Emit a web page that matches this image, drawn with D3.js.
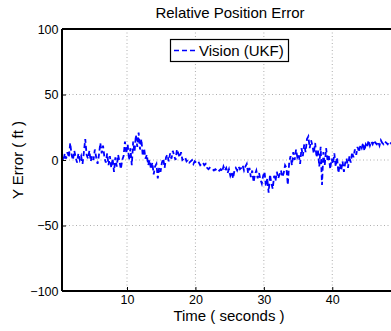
<!DOCTYPE html>
<html>
<head>
<meta charset="utf-8">
<script src="https://cdn.jsdelivr.net/npm/d3@7"></script>
<style>
  html, body { margin: 0; padding: 0; background: #fff; }
  svg { display: block; font-family: "Liberation Sans", Arial, Helvetica, sans-serif; }
</style>
</head>
<body>
<svg id="chart" width="391" height="331"></svg>
<script>
// Sample times (seconds)
const timeSec = [
  0.5, 0.7, 0.9, 1.1, 1.3, 1.5, 1.7, 1.9, 2.1, 2.3,
  2.5, 2.7, 2.9, 3.1, 3.3, 3.5, 3.7, 3.9, 4.1, 4.3,
  4.5, 4.7, 4.9, 5.1, 5.3, 5.5, 5.7, 5.9, 6.1, 6.3,
  6.5, 6.7, 6.9, 7.1, 7.3, 7.5, 7.7, 7.9, 8.1, 8.3,
  8.5, 8.7, 8.9, 9.1, 9.3, 9.5, 9.7, 9.9, 10.1, 10.3,
  10.5, 10.7, 10.9, 11.1, 11.3, 11.5, 11.7, 11.9, 12.1, 12.3,
  12.5, 12.7, 12.9, 13.1, 13.3, 13.5, 13.7, 13.9, 14.1, 14.3,
  14.5, 14.7, 14.9, 15.1, 15.3, 15.5, 15.7, 15.9, 16.1, 16.3,
  16.5, 16.7, 16.9, 17.1, 17.3, 17.5, 17.7, 17.9, 18.1, 18.3,
  18.5, 18.7, 18.9, 19.1, 19.3, 19.5, 19.7, 19.9, 20.1, 20.3,
  20.5, 20.7, 20.9, 21.1, 21.3, 21.5, 21.7, 21.9, 22.1, 22.3,
  22.5, 22.7, 22.9, 23.1, 23.3, 23.5, 23.7, 23.9, 24.1, 24.3,
  24.5, 24.7, 24.9, 25.1, 25.3, 25.5, 25.7, 25.9, 26.1, 26.3,
  26.5, 26.7, 26.9, 27.1, 27.3, 27.5, 27.7, 27.9, 28.1, 28.3,
  28.5, 28.7, 28.9, 29.1, 29.3, 29.5, 29.7, 29.9, 30.1, 30.3,
  30.5, 30.7, 30.9, 31.1, 31.3, 31.5, 31.7, 31.9, 32.1, 32.3,
  32.5, 32.7, 32.9, 33.1, 33.3, 33.5, 33.7, 33.9, 34.1, 34.3,
  34.5, 34.7, 34.9, 35.1, 35.3, 35.5, 35.7, 35.9, 36.1, 36.3,
  36.5, 36.7, 36.9, 37.1, 37.3, 37.5, 37.7, 37.9, 38.1, 38.3,
  38.5, 38.7, 38.9, 39.1, 39.3, 39.5, 39.7, 39.9, 40.1, 40.3,
  40.5, 40.7, 40.9, 41.1, 41.3, 41.5, 41.7, 41.9, 42.1, 42.3,
  42.5, 42.7, 42.9, 43.1, 43.3, 43.5, 43.7, 43.9, 44.1, 44.3,
  44.5, 44.7, 44.9, 45.1, 45.3, 45.5, 45.7, 45.9, 46.1, 46.3,
  46.5, 46.7, 46.9, 47.1, 47.3, 47.5, 47.7, 47.9, 48.1, 48.3,
  48.5, 48.7, 48.9, 49.1, 49.3, 49.5, 49.7, 49.9
];

// Vision (UKF) relative Y position error (ft)
const visionUKF = [
  3, -1, 5, 1, 6, 2, 13, 4, 0, 7,
  2, -2, 5, 0, 3, -3, 6, 16, 4, 1,
  7, -1, 3, 0, 8, 2, -3, 4, 13, 5,
  11, 2, -2, 5, -4, 3, -6, 1, -9, 2,
  -5, 4, -1, -7, 0, 3, 14, 5, 12, 0,
  9, -4, 14, 6, 19, 10, 21, 8, 16, 3,
  9, 1, 4, -4, 0, -7, -2, -11, -5, -3,
  -14, -6, -9, -2, 1, -6, 2, 4, -1, 5,
  1, 7, 3, 0, 8, 5, 2, 6, 0, 1,
  2, -1, 0, -2, -1, 0, -3, -1, -2, -3,
  -2, -4, -3, -2, -4, -3, -6, -7, -6, -7,
  -7, -8, -7, -8, -9, -8, -7, -9, -5, -8,
  -6, -10, -7, -12, -9, -14, -8, -6, -8, -5,
  -7, -6, -4, -8, -5, -3, -10, -6, -13, -8,
  -17, -11, -8, -14, -10, -15, -18, -12, -9, -20,
  -14, -25, -11, -18, -22, -12, -16, -9, -14, -11,
  -8, -13, -10, -4, -6, -19, -2, 3, -4, 6,
  0, 8, 2, 4, -3, 9, 3, 12, 6, 16,
  18, 9, 15, 11, 5, 13, 2, 8, -5, 10,
  -19, 6, -4, 9, 0, 3, -7, 1, -3, 5,
  -5, 2, -10, -3, -8, -1, -9, -2, 1, -6,
  3, -2, 6, 2, 8, 4, 10, 6, 11, 9,
  13, 7, 12, 10, 15, 11, 14, 12, 15, 13,
  12, 14, 11, 15, 13, 12, 14, 13, 12, 14,
  13, 12, 13, 14, 12, 13, 14, 13
];

const xTicks = [10, 20, 30, 40];
const yTicks = [-100, -50, 0, 50, 100];
const xDomain = [0.5, 50];
const yDomain = [-100, 100];

const titleText = "Relative Position Error";
const xLabelText = "Time ( seconds )";
const yLabelText = "Y Error ( ft )";
const legendText = "Vision (UKF)";

const svg = d3.select("#chart");
const plot = { left: 62, top: 29, right: 400.7, bottom: 291 };

const x = d3.scaleLinear().domain(xDomain).range([plot.left, plot.right]);
const y = d3.scaleLinear().domain(yDomain).range([plot.bottom, plot.top]);

svg.append("defs").append("clipPath").attr("id", "plot-clip")
  .append("rect")
  .attr("x", plot.left).attr("y", plot.top)
  .attr("width", plot.right - plot.left).attr("height", plot.bottom - plot.top);

// Dotted grid
const grid = svg.append("g").attr("stroke", "#9a9a9a").attr("stroke-width", 0.8)
  .attr("stroke-dasharray", "1,2.5");
grid.selectAll("line.gx").data(xTicks).join("line")
  .attr("x1", d => x(d)).attr("x2", d => x(d))
  .attr("y1", plot.top).attr("y2", plot.bottom);
grid.selectAll("line.gy").data(yTicks.filter(d => d > yDomain[0] && d < yDomain[1])).join("line")
  .attr("x1", plot.left).attr("x2", plot.right)
  .attr("y1", d => y(d)).attr("y2", d => y(d));

// Series
const series = timeSec.map((t, i) => [t, visionUKF[i]]);
const line = d3.line().x(d => x(d[0])).y(d => y(d[1]));
svg.append("path")
  .datum(series)
  .attr("clip-path", "url(#plot-clip)")
  .attr("fill", "none")
  .attr("stroke", "#0000ff")
  .attr("stroke-width", 1.8)
  .attr("stroke-dasharray", "5,3")
  .attr("d", line);

// Axes (ticks drawn inward)
const xAxis = d3.axisBottom(x).tickValues(xTicks).tickSizeInner(-4).tickSizeOuter(0).tickPadding(4);
const yAxis = d3.axisLeft(y).tickValues(yTicks).tickSizeInner(-4).tickSizeOuter(0).tickPadding(3.5);

const gx = svg.append("g").attr("transform", `translate(0,${plot.bottom})`).call(xAxis);
const gy = svg.append("g").attr("transform", `translate(${plot.left},0)`).call(yAxis);
[gx, gy].forEach(g => {
  g.select(".domain").remove();
  g.selectAll("line").attr("stroke", "#000").attr("stroke-width", 1);
  g.selectAll("text").attr("fill", "#000").style("font-size", "12.5px")
    .style("font-family", "\"Liberation Sans\", Arial, sans-serif");
});

// Frame
svg.append("g").attr("stroke", "#000").attr("stroke-width", 2).attr("fill", "none")
  .call(g => {
    g.append("line").attr("x1", plot.left).attr("x2", plot.right).attr("y1", plot.top).attr("y2", plot.top);
    g.append("line").attr("x1", plot.left).attr("x2", plot.right).attr("y1", plot.bottom).attr("y2", plot.bottom);
    g.append("line").attr("x1", plot.left).attr("x2", plot.left).attr("y1", plot.top).attr("y2", plot.bottom);
    g.append("line").attr("x1", plot.right).attr("x2", plot.right).attr("y1", plot.top).attr("y2", plot.bottom);
  });

// Title and labels
svg.append("text").attr("x", 230).attr("y", 18).attr("text-anchor", "middle")
  .style("font-size", "15px").text(titleText);
svg.append("text").attr("x", 229).attr("y", 321).attr("text-anchor", "middle")
  .style("font-size", "15px").text(xLabelText);
svg.append("text").attr("transform", "translate(23,160) rotate(-90)").attr("text-anchor", "middle")
  .style("font-size", "15px").text(yLabelText);

// Legend
const lg = svg.append("g");
lg.append("rect").attr("x", 170.5).attr("y", 39.5).attr("width", 118).attr("height", 22)
  .attr("fill", "#fff").attr("stroke", "#000").attr("stroke-width", 1.2);
lg.append("line").attr("x1", 174).attr("x2", 197).attr("y1", 50.5).attr("y2", 50.5)
  .attr("stroke", "#0000ff").attr("stroke-width", 1.6).attr("stroke-dasharray", "5,3");
lg.append("text").attr("x", 199).attr("y", 55.5).style("font-size", "15px").text(legendText);
</script>
</body>
</html>
